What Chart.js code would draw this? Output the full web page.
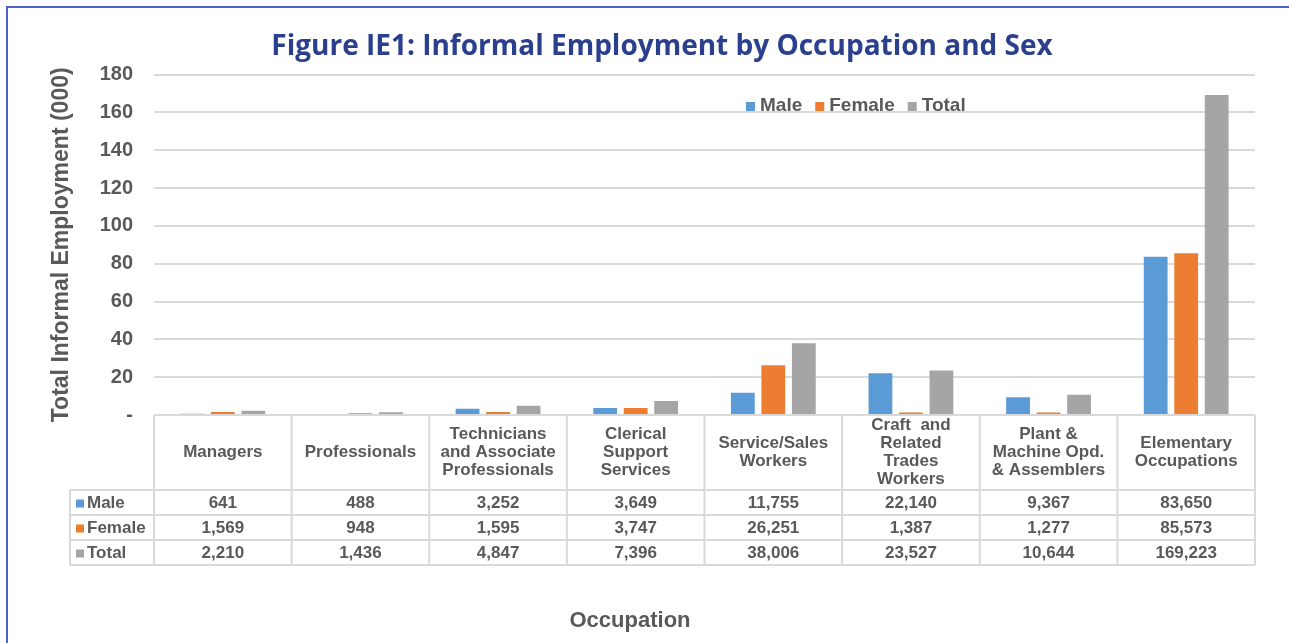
<!DOCTYPE html>
<html>
<head>
<meta charset="utf-8">
<script src="https://cdn.jsdelivr.net/npm/chart.js@4.4.1/dist/chart.umd.min.js"></script>
<style>
  body { margin: 0; background: #fff; }
  #wrap { width: 1289px; height: 643px; }
</style>
</head>
<body>
<div id="wrap"><canvas id="chart" width="1289" height="643"></canvas></div>
<script>
// data (persons, as shown in the table)
const occupations = [
    ['Managers'],
    ['Professionals'],
    ['Technicians', 'and Associate', 'Professionals'],
    ['Clerical', 'Support', 'Services'],
    ['Service/Sales', 'Workers'],
    ['Craft  and', 'Related', 'Trades', 'Workers'],
    ['Plant &', 'Machine Opd.', '& Assemblers'],
    ['Elementary', 'Occupations']
];
const male   = [641, 488, 3252, 3649, 11755, 22140, 9367, 83650];
const female = [1569, 948, 1595, 3747, 26251, 1387, 1277, 85573];
const total  = [2210, 1436, 4847, 7396, 38006, 23527, 10644, 169223];
const seriesNames = ['Male', 'Female', 'Total'];
const seriesColors = ['#5b9bd5', '#ed7d31', '#a5a5a5'];
const yTicks = [0, 20, 40, 60, 80, 100, 120, 140, 160, 180];

const textGray = '#595959';
const lineGray = '#d9d9d9';
const fontFam = '"Liberation Sans", Arial, sans-serif';

const toThousands = arr => arr.map(v => v / 1000);
const fmt = v => v.toLocaleString('en-US');

// frame, legend, data table and x title drawn around the chart
const tablePlugin = {
    id: 'dataTable',
    beforeDraw(chart) {
        const ctx = chart.ctx;
        ctx.save();
        ctx.strokeStyle = '#4a66c4';
        ctx.lineWidth = 2;
        ctx.beginPath();
        ctx.moveTo(7, chart.height);
        ctx.lineTo(7, 7);
        ctx.lineTo(chart.width, 7);
        ctx.stroke();
        ctx.restore();
    },
    afterDraw(chart) {
        const ctx = chart.ctx;
        const x = chart.scales.x;
        const area = chart.chartArea;
        const n = occupations.length;
        const colW = (x.right - x.left) / n;
        const headTop = area.bottom;
        const headBottom = headTop + 75;
        const rowH = 25;
        const tableBottom = headBottom + rowH * 3;
        const legLeft = 70;

        ctx.save();
        ctx.strokeStyle = lineGray;
        ctx.lineWidth = 2;
        ctx.beginPath();
        ctx.moveTo(x.left, headTop); ctx.lineTo(x.right, headTop);
        for (let r = 0; r <= 3; r++) {
            const yy = headBottom + r * rowH;
            ctx.moveTo(legLeft, yy); ctx.lineTo(x.right, yy);
        }
        ctx.moveTo(legLeft, headBottom); ctx.lineTo(legLeft, tableBottom);
        for (let c = 0; c <= n; c++) {
            const xx = x.left + c * colW;
            ctx.moveTo(xx, headTop); ctx.lineTo(xx, tableBottom);
        }
        ctx.stroke();

        ctx.fillStyle = textGray;
        ctx.textAlign = 'center';
        ctx.textBaseline = 'middle';
        ctx.font = 'bold 17px ' + fontFam;
        occupations.forEach((lines, i) => {
            const cx = x.getPixelForValue(i);
            const cy = (headTop + headBottom) / 2;
            const lh = 18;
            lines.forEach((t, k) => {
                ctx.fillText(t, cx, cy + (k - (lines.length - 1) / 2) * lh);
            });
        });

        const rows = [male, female, total];
        rows.forEach((vals, r) => {
            const cy = headBottom + r * rowH + rowH / 2 + 1;
            ctx.fillStyle = seriesColors[r];
            ctx.fillRect(legLeft + 6, cy - 4, 8, 8);
            ctx.fillStyle = textGray;
            ctx.textAlign = 'left';
            ctx.fillText(seriesNames[r], legLeft + 17, cy);
            ctx.textAlign = 'center';
            vals.forEach((v, i) => {
                ctx.fillText(fmt(v), x.getPixelForValue(i), cy);
            });
        });

        // axis title under the table
        ctx.font = 'bold 22px ' + fontFam;
        ctx.fillText('Occupation', 630, 621);

        // legend inside the plot
        ctx.font = 'bold 19px ' + fontFam;
        ctx.textAlign = 'left';
        const ly = 106;
        let lx = 746;
        seriesNames.forEach((name, i) => {
            ctx.fillStyle = seriesColors[i];
            ctx.fillRect(lx, ly - 4, 9, 9);
            ctx.fillStyle = textGray;
            ctx.fillText(name, lx + 14, ly);
            lx += 14 + ctx.measureText(name).width + 13;
        });
        ctx.restore();
    }
};

const ctx = document.getElementById('chart').getContext('2d');
new Chart(ctx, {
    type: 'bar',
    data: {
        labels: occupations.map(l => l.join(' ')),
        datasets: [
            { label: 'Male', data: toThousands(male), backgroundColor: seriesColors[0] },
            { label: 'Female', data: toThousands(female), backgroundColor: seriesColors[1] },
            { label: 'Total', data: toThousands(total), backgroundColor: seriesColors[2] }
        ]
    },
    options: {
        responsive: false,
        animation: false,
        categoryPercentage: 0.665,
        barPercentage: 0.78,
        layout: { padding: { left: 69, right: 34, top: 0, bottom: 0 } },
        plugins: {
            legend: { display: false },
            tooltip: { enabled: false },
            title: {
                display: true,
                text: 'Figure IE1: Informal Employment by Occupation and Sex',
                color: '#2b3f8f',
                font: { family: '"Open Sans", sans-serif', size: 28, weight: 'bold' },
                padding: { top: 30, bottom: 11 }
            }
        },
        scales: {
            x: {
                ticks: { display: false },
                grid: { display: false },
                border: { display: false },
                afterFit(scale) { scale.height = 228; }
            },
            y: {
                min: 0,
                max: 180,
                afterBuildTicks(scale) { scale.ticks = yTicks.map(v => ({ value: v })); },
                ticks: {
                    color: textGray,
                    font: { family: fontFam, size: 20, weight: 'bold' },
                    padding: 21,
                    callback: v => v === 0 ? '-' : v
                },
                grid: { color: lineGray, lineWidth: 2, drawTicks: false },
                border: { display: false },
                title: {
                    display: true,
                    text: 'Total Informal Employment (000)',
                    color: textGray,
                    font: { family: fontFam, size: 23, weight: 'bold' },
                    padding: { top: -21, bottom: 0 }
                },
                afterFit(scale) { scale.width = 85; }
            }
        }
    },
    plugins: [tablePlugin]
});
</script>
</body>
</html>
